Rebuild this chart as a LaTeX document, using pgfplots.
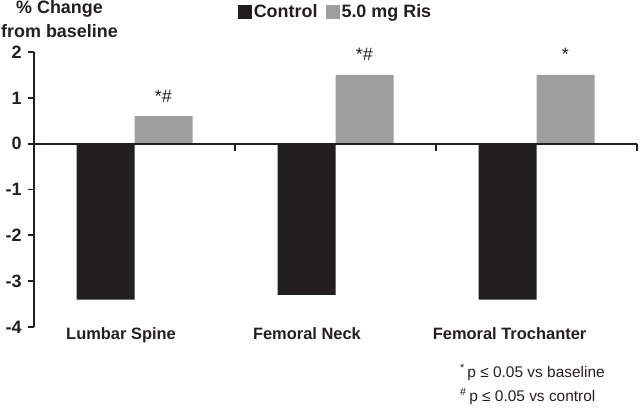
\documentclass[border=0pt]{standalone}
\usepackage{fontspec}
\setmainfont{Liberation Sans}
\usepackage{pgfplots}
\pgfplotsset{compat=1.18}
\definecolor{barblack}{HTML}{231F20}
\definecolor{bargray}{HTML}{9E9E9E}
\definecolor{txt}{HTML}{231F20}
\newcommand{\bigfnt}{\fontsize{18}{21}\selectfont}
\newcommand{\catfnt}{\fontsize{16.5}{20}\selectfont\bfseries}
\newcommand{\footfnt}{\fontsize{15.5}{18}\selectfont}
\begin{document}
\begin{tikzpicture}[x=1bp,y=1bp]
\path[use as bounding box] (0,0) rectangle (640,407);
\begin{axis}[
  at={(34bp,80bp)}, anchor=south west,
  scale only axis, width=603bp, height=275bp,
  xmin=-0.5, xmax=2.5, ymin=-4, ymax=2,
  axis y line*=left, axis x line=none,
  xtick=\empty,
  ytick={-4,-3,-2,-1,0,1,2},
  yticklabels={-4,-3,-2,-1,0,1,2},
  yticklabel style={font=\bigfnt\bfseries, text=txt, xshift=-3bp},
  tick align=outside, major tick length=6bp,
  y axis line style={line width=1.8bp, color=txt},
  ytick style={line width=1.8bp, color=txt},
  ybar=0pt, bar width=58bp,
  clip=false,
  legend style={draw=none, fill=none, at={(0.5,1.145)}, anchor=center,
    legend columns=-1, font=\bigfnt\bfseries, text=txt,
    nodes={inner sep=2bp},
    /tikz/every even column/.append style={column sep=6bp}},
  legend image code/.code={\fill[#1] (0bp,-7bp) rectangle (14bp,7bp);},
]
\addplot[fill=barblack, draw=none] coordinates {(0,-3.4) (1,-3.3) (2,-3.4)};
\addlegendentry{Control}
\addplot[fill=bargray, draw=none] coordinates {(0,0.6) (1,1.5) (2,1.5)};
\addlegendentry{5.0 mg Ris}
\draw[line width=1.8bp, txt] (axis cs:-0.5,0) -- (axis cs:2.5,0);
\draw[line width=1.8bp, txt] (axis cs:0.5,0) -- ([yshift=-7bp]axis cs:0.5,0);
\draw[line width=1.8bp, txt] (axis cs:1.5,0) -- ([yshift=-7bp]axis cs:1.5,0);
\draw[line width=1.8bp, txt] (axis cs:2.5,0) -- ([yshift=-7bp]axis cs:2.5,0);
\node[anchor=base, font=\bigfnt, text=txt, inner sep=0] at (axis cs:0.144,0.6) [yshift=14bp] {*\#};
\node[anchor=base, font=\bigfnt, text=txt, inner sep=0] at (axis cs:1.144,1.5) [yshift=14bp] {*\#};
\node[anchor=base, font=\bigfnt, text=txt, inner sep=0] at (axis cs:2.144,1.5) [yshift=14bp] {*};
\node[anchor=base, font=\catfnt, text=txt, inner sep=0] at (axis cs:-0.067,-4) [yshift=-12bp] {Lumbar Spine};
\node[anchor=base, font=\catfnt, text=txt, inner sep=0] at (axis cs:0.858,-4) [yshift=-12bp] {Femoral Neck};
\node[anchor=base, font=\catfnt, text=txt, inner sep=0] at (axis cs:1.866,-4) [yshift=-12bp] {Femoral Trochanter};
\end{axis}
\node[anchor=base, font=\bigfnt\bfseries, text=txt, inner sep=0] at (59.5,393.5) {\% Change};
\node[anchor=base, font=\bigfnt\bfseries, text=txt, inner sep=0] at (59.5,370) {from baseline};
\node[anchor=base west, font=\footfnt, text=txt, inner sep=0] at (460,30) {\textsuperscript{*}\,p ≤ 0.05 vs baseline};
\node[anchor=base west, font=\footfnt, text=txt, inner sep=0] at (460,6) {\textsuperscript{\#}\,p ≤ 0.05 vs control};
\end{tikzpicture}
\end{document}
